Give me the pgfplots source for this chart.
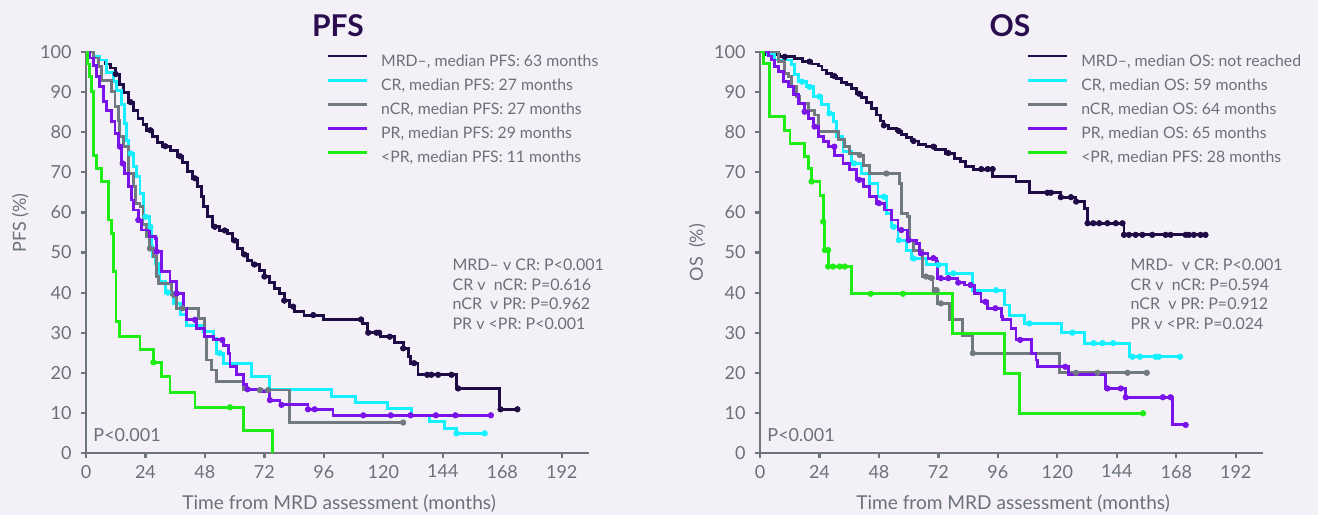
\documentclass[border=0pt]{standalone}
\usepackage{pgfplots}
\pgfplotsset{compat=1.18}
\usepackage{fontspec}
\setmainfont{Lato}
\definecolor{bgc}{HTML}{F3F1F7}
\definecolor{axc}{HTML}{6E757B}
\definecolor{txc}{HTML}{6B7177}
\definecolor{ttl}{HTML}{2B0D4F}
\definecolor{cMRD}{HTML}{1F0B45}
\definecolor{cCR}{HTML}{14F0FF}
\definecolor{cNCR}{HTML}{717980}
\definecolor{cPR}{HTML}{7A12EA}
\definecolor{cLPR}{HTML}{1EEC14}
\pgfplotsset{
  kmaxis/.style={
    scale only axis, width=251.5pt, height=200.5pt,
    xmin=0, xmax=203, ymin=0, ymax=100,
    axis lines=left, axis line style={draw=axc, line width=1.25pt, -},
    xtick={0,24,...,192}, ytick={0,10,...,100},
    tick style={draw=axc, line width=1.1pt}, tick align=outside, major tick length=2.5pt,
    tick label style={font=\fontsize{9}{10}\selectfont, text=txc},
    yticklabel style={xshift=-1.2pt},
    /pgf/number format/assume math mode=true,
    clip=false,
    legend cell align=left,
    legend image code/.code={\draw[##1, line width=1.4pt] (0pt,2.85pt) -- (19.5pt,2.85pt);},
    legend style={draw=none, fill=none, inner sep=0pt, row sep=4.8pt,
      font=\fontsize{7.9}{8.5}\selectfont, text=txc,
      nodes={inner sep=0pt, text height=5.8pt, text depth=1.5pt},
      /tikz/every odd column/.append style={column sep=6.5pt}},
  },
  km/.style={const plot, line width=1.45pt, mark=none},
  cens/.style={only marks, mark=*, mark size=1.35pt, forget plot},
}
\begin{document}
\begin{tikzpicture}[x=1pt,y=1pt]
\path[fill=bgc, use as bounding box] (0,0) rectangle (659,257.5);
% ================= PFS =================
\begin{axis}[kmaxis, at={(43pt,31pt)}, anchor=south west,
  legend style={at={(rel axis cs:0.477,0.995)}, anchor=north west}]
\addplot[km, color=cMRD] coordinates {
(0,100)(3,99)(5,98)(8,97)(10,96)(12,94.5)(13.5,92)(15,90)(17,87.5)(19,85.5)(21,83.5)(23,82)(24.5,80.5)(27,79)(29,77.5)(31,76.5)(34,75.5)(37,74)(39,72.5)(41,70.2)(43,68.5)(45,66.4)(46.5,64)(47.5,61.5)(49,59)(51,56.4)(54,55.5)(57,54.8)(59,53)(61,51)(63,49.5)(65,48)(67,47)(70,45.6)(72,44)(74,42.5)(76,41)(78,39.8)(80,38)(82,36.5)(84,35.2)(88,34.4)(96,33.3)(111.5,32.2)(113.5,30)(119,29)(124.5,27.5)(128,26.1)(130,24)(131,22.4)(134,19.5)(149.5,16.1)(167,10.9)(174,10.9)};
\addlegendentry{MRD–, median PFS: 63 months}
\addplot[km, color=cCR] coordinates {
(0,100)(3,99)(5.6,98)(8.3,95)(11,92.6)(12.4,90.5)(14.4,86.8)(15.7,82.2)(16.5,78)(17,74.7)(19.1,71.4)(20.4,68.9)(21.8,64.8)(23.1,58.9)(25.8,56.4)(26.5,51.4)(27,49)(28,47.3)(29.8,42.7)(32,40)(35.2,37.3)(38,34.5)(40.6,31.9)(47.3,30.2)(51.3,28.6)(52.7,24.9)(55.4,22.4)(66.8,19.0)(74.2,15.9)(99.1,14.0)(108.9,12.6)(121.5,11.0)(131.4,9.4)(138.8,7.8)(144.8,6.2)(149.5,4.9)(160.9,4.9)};
\addlegendentry{CR, median PFS: 27 months}
\addplot[km, color=cNCR] coordinates {
(0,100)(3,98.5)(5,96.3)(6.3,93)(10.4,90.1)(11.7,86.4)(13,83)(13.7,78.9)(15,76.4)(17,69.7)(19.1,66.4)(19.8,62.3)(21.8,61.4)(23,57)(24.5,53.9)(25.8,51)(27.2,49)(28.5,44)(29.2,42.3)(34.6,39.4)(36.6,36.1)(45.3,33.6)(48,29)(48.7,23.2)(50.7,20.7)(52.7,17.8)(63.5,15.7)(82.3,7.6)(128,7.6)};
\addlegendentry{nCR, median PFS: 27 months}
\addplot[km, color=cPR] coordinates {
(0,100)(1.5,98.5)(3,96.7)(4.3,93.8)(5.6,91.3)(7,87.6)(8.3,85.5)(10.4,82.6)(11.7,79.7)(13,76.4)(14.4,72.2)(15.7,69.7)(17,66.4)(18.4,63.1)(19.1,60.6)(21.1,58.1)(22.4,55.6)(25.8,53.9)(28,53.5)(28.5,50.2)(30.5,45.2)(33.9,42.7)(36.6,39.8)(39.3,36.1)(40.6,33.2)(44.6,31.1)(48,29)(51.3,28.2)(55.4,26.9)(57.4,24.9)(58.1,21.5)(60.8,19.5)(63.5,17)(64.8,15.9)(70.8,15.3)(74.2,13.2)(78.3,12)(89.6,10.9)(99.7,9.4)(163.4,9.4)};
\addlegendentry{PR, median PFS: 29 months}
\addplot[km, color=cLPR] coordinates {
(0,100)(0.5,97)(1.3,93.8)(2.3,90.1)(3,74.3)(4.3,71)(6.3,67.7)(9,58.1)(10.4,54.8)(11,45.2)(12.1,32.7)(13.7,29)(21.8,25.9)(27.2,22.6)(30.5,19)(33.9,15.1)(44,11.4)(63.5,5.7)(75.3,5.7)(75.3,0)};
\addlegendentry{<PR, median PFS: 11 months}
% censor marks
\addplot[cens, color=cMRD] coordinates {(12,94.5)(18,87.5)(26,80.5)(32,76.5)(38,74)(44,68.5)(52,56.4)(56,55.5)(60,53)(64,49.5)(68,47)(72,44)(80,38)(83.6,36.5)(91.7,34.4)(111,33.3)(113.9,30)(117.2,30)(118.3,30)(122.6,29)(128,26.1)(132.4,22.4)(137.7,19.5)(139.4,19.5)(142.1,19.5)(147.5,19.5)(150.2,16.1)(167.3,10.9)(174.1,10.9)};
\addplot[cens, color=cCR] coordinates {(18,74.7)(24,58.9)(26,56.4)(33,40)(54,24.9)(149.5,4.9)(160.9,4.9)};
\addplot[cens, color=cNCR] coordinates {(25.8,51)(35.5,39.4)(39,36.1)(70.2,15.7)(73.5,15.7)(128,7.6)};
\addplot[cens, color=cPR] coordinates {(13.7,76.4)(14.8,72.2)(21.1,58.1)(28.5,50.2)(36.6,39.8)(44,33.2)(55,28.2)(65.2,15.9)(74.2,13.2)(78.9,12)(89.6,10.9)(92.3,10.9)(111.9,9.4)(123,9.4)(131,9.4)(141.2,9.4)(149.1,9.4)(163.4,9.4)};
\addplot[cens, color=cLPR] coordinates {(27.2,22.6)(58.1,11.4)};
\node[font=\fontsize{15}{16}\bfseries\selectfont, text=ttl] at (rel axis cs:0.501,1.065) {PFS};
\node[rotate=90, font=\fontsize{9}{10}\selectfont, text=txc] at (rel axis cs:-0.131,0.574) {PFS (\%)};
\node[font=\fontsize{9.55}{10}\selectfont, text=txc] at (rel axis cs:0.503,-0.125) {Time from MRD assessment (months)};
\node[font=\fontsize{9}{10}\selectfont, text=txc, anchor=west, inner sep=0pt] at (rel axis cs:0.014,0.045) {P<0.001};
\node[font=\fontsize{8}{9.75}\selectfont, text=txc, anchor=north west, align=left, inner sep=0pt] at (rel axis cs:0.728,0.484) {MRD– v CR: P<0.001\\CR v\ \ nCR: P=0.616\\nCR\ \ v PR: P=0.962\\PR v <PR: P<0.001};
\end{axis}
% ================= OS =================
\begin{axis}[kmaxis, at={(380pt,31pt)}, anchor=south west,
  legend style={at={(rel axis cs:0.529,0.995)}, anchor=north west}]
\addplot[km, color=cMRD] coordinates {
(0,100)(2,99.3)(8,98.8)(14,98.3)(17,97.6)(21,97)(23.5,96.5)(25,95.5)(27,94.6)(29,94)(31,93.3)(33,92.5)(35,91.8)(37,90.8)(39,89.6)(41,88.6)(43,87.4)(45,86)(47,84.3)(48.5,82.8)(50,81.7)(52,81)(55,80.3)(57,79.5)(59,78.6)(61,77.8)(64,77)(67,76.4)(71,75.6)(75,74.8)(78.5,73.5)(81,72.6)(83,71.5)(86,70.8)(94,68.9)(103.3,67.7)(108.7,64.9)(121.4,63.8)(127.5,62.7)(130.8,61)(132.2,57.3)(146.9,54.4)(179.8,54.4)};
\addlegendentry{MRD–, median OS: not reached}
\addplot[km, color=cCR] coordinates {
(0,100)(3,99.3)(6,98)(12.8,96.8)(14.1,94.3)(15.4,92.6)(18.8,91.3)(21.5,88.9)(24.8,86.8)(27.5,84.7)(29.5,82.6)(30.9,78.9)(33.5,75.1)(36.9,72.2)(40.9,69.7)(44.3,67.3)(47.6,63.9)(51,59.8)(53,56.4)(55.7,53.1)(59.1,50.6)(61.1,48.5)(67.1,46.9)(75.2,44.8)(85.9,40.6)(98.6,36.9)(100.6,34.4)(106.7,32.3)(121.5,30.0)(130.8,27.4)(149,24.0)(169.5,24.0)};
\addlegendentry{CR, median OS: 59 months}
\addplot[km, color=cNCR] coordinates {
(0,100)(7.4,97.6)(10,94.7)(11.4,93.8)(12.8,91.3)(14.8,88.9)(16.1,87.2)(19.4,85.5)(22.1,84.3)(23.5,80.1)(31.5,78.1)(34.2,76.4)(36.2,74.7)(39.6,74.3)(41.6,71.8)(44.3,69.7)(56.4,67.3)(57,59.8)(59.7,58.9)(60.4,53.1)(62,50.5)(65.7,44)(68.4,43.6)(69.8,40.6)(71.8,37.3)(76.5,33.2)(81.8,29.2)(85.9,24.9)(120.8,20.0)(156.1,20.0)};
\addlegendentry{nCR, median OS: 64 months}
\addplot[km, color=cPR] coordinates {
(0,100)(3.5,99)(4.7,98)(6,96.3)(7.4,95.1)(9.4,92.6)(11.4,91.3)(13.4,89.3)(15.4,87.2)(18.1,85.1)(19.4,83.5)(21.5,81.4)(23.5,78.9)(25.5,77.6)(27.5,76.4)(30.2,74.3)(33.5,72.2)(36.2,70.6)(38.9,68.1)(41.6,66.4)(44.3,63.9)(47,62.3)(50.3,60.6)(53,58.1)(55.7,55.6)(59.7,53.1)(63.1,52.3)(64.4,49.8)(67.8,48.6)(71.1,47.7)(71.8,43.6)(79.8,42.5)(82.5,41.9)(86.6,39.8)(89.2,37.7)(91.9,36.1)(97.3,34.0)(98,33.2)(101.3,31.1)(103.3,28.2)(109.4,24.9)(111.4,23.2)(112.1,21.5)(124.5,19.5)(139.6,16.1)(147.6,13.9)(166.4,7.0)(171.8,7.0)};
\addlegendentry{PR, median OS: 65 months}
\addplot[km, color=cLPR] coordinates {
(0,100)(1.3,97.2)(4,83.9)(10,80.5)(12.1,77.2)(18.1,73.9)(19.4,71)(20.8,67.7)(24.2,64.3)(25.5,57.7)(26.2,50.6)(27.5,46.5)(36.9,39.7)(77.8,29.8)(98.6,19.9)(104.7,9.9)(154.6,9.9)};
\addlegendentry{<PR, median PFS: 28 months}
% censor marks
\addplot[cens, color=cMRD] coordinates {(10,98.8)(20,97.6)(30,94)(40,89.6)(50,81.7)(56,80.3)(62,77.8)(70,76.4)(76,74.8)(89.3,70.8)(91.9,70.8)(93.9,70.8)(116,64.9)(117.4,64.9)(121.4,63.8)(125.5,63.8)(127.6,62.7)(132.2,57.3)(134.5,57.3)(136.9,57.3)(140.2,57.3)(143.6,57.3)(146.3,57.3)(146.9,54.4)(148.9,54.4)(151.6,54.4)(154.3,54.4)(158.3,54.4)(163.7,54.4)(165.7,54.4)(171.8,54.4)(173.1,54.4)(175.1,54.4)(177.8,54.4)(179.8,54.4)};
\addplot[cens, color=cCR] coordinates {(17,92.6)(20,91.3)(24,88.9)(28,84.7)(38,72.2)(50,63.9)(54,56.4)(56,53.1)(62,48.5)(72,46.9)(78,44.8)(95.3,40.6)(108.7,32.3)(126.1,30)(134.6,27.4)(138.2,27.4)(142.5,27.4)(150.3,24)(153.3,24)(159.7,24)(161,24)(169.5,24)};
\addplot[cens, color=cNCR] coordinates {(40.3,74.3)(51,69.7)(67,44)(69.3,43.6)(70.5,40.6)(71.3,40.6)(73,37.3)(85.9,24.9)(127.5,20)(136.2,20)(148.3,20)(156.1,20)};
\addplot[cens, color=cPR] coordinates {(18,85.1)(22,81.4)(30,76.4)(40,68.1)(48,62.3)(57,55.6)(60,53.1)(65,49.8)(70,48.6)(73,43.6)(76,43.6)(80,42.5)(85,41.9)(91,37.7)(95,36.1)(105,28.2)(123.2,21.5)(140.2,16.1)(145.6,16.1)(147.6,13.9)(162.6,13.9)(165.7,13.9)(171.8,7)};
\addplot[cens, color=cLPR] coordinates {(20.8,67.7)(25.5,57.7)(26.2,50.6)(27.5,50.6)(27.5,46.5)(29.5,46.5)(32.2,46.5)(34.2,46.5)(44.7,39.7)(57.7,39.7)(154.6,9.9)};
\node[font=\fontsize{15}{16}\bfseries\selectfont, text=ttl] at (rel axis cs:0.497,1.065) {OS};
\node[rotate=90, font=\fontsize{9}{10}\selectfont, text=txc] at (rel axis cs:-0.125,0.5) {OS\ \ (\%)};
\node[font=\fontsize{9.55}{10}\selectfont, text=txc] at (rel axis cs:0.503,-0.125) {Time from MRD assessment (months)};
\node[font=\fontsize{9}{10}\selectfont, text=txc, anchor=west, inner sep=0pt] at (rel axis cs:0.014,0.045) {P<0.001};
\node[font=\fontsize{8}{9.75}\selectfont, text=txc, anchor=north west, align=left, inner sep=0pt] at (rel axis cs:0.736,0.484) {MRD-\ \ v CR: P<0.001\\CR v\ \ nCR: P=0.594\\nCR\ \ v PR: P=0.912\\PR v <PR: P=0.024};
\end{axis}
\end{tikzpicture}
\end{document}
